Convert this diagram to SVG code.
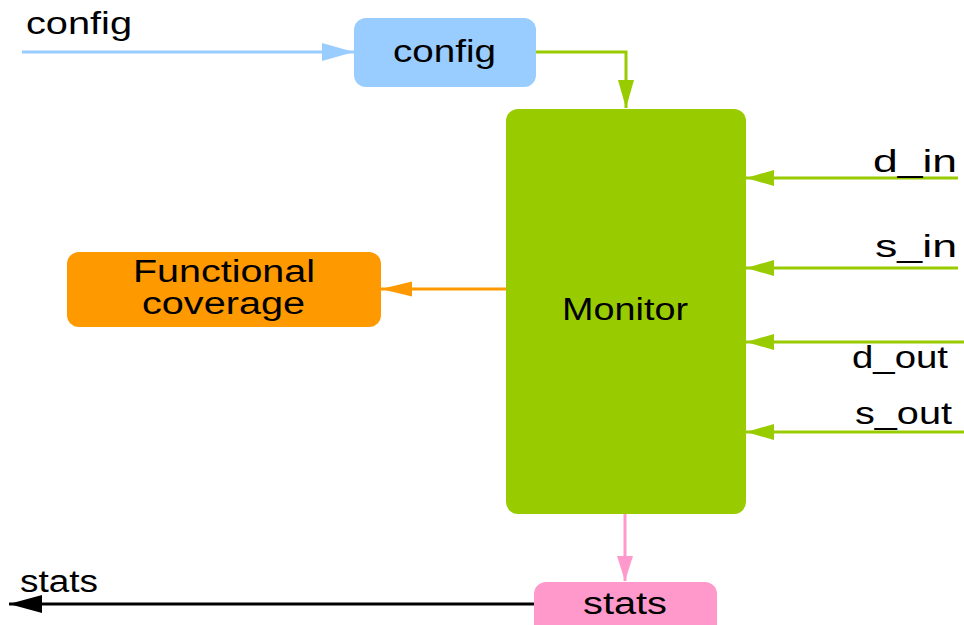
<svg xmlns="http://www.w3.org/2000/svg" width="964" height="625" viewBox="0 0 964 625">
<style>
text{font-family:"Liberation Sans",Arial,sans-serif;font-size:31px;fill:#000;}
.ln{fill:none;stroke-width:3;}
</style>
<defs>
<marker id="aBlue" markerUnits="userSpaceOnUse" markerWidth="34" markerHeight="20" refX="32" refY="10" orient="auto"><path d="M0,1 L32,10 L0,19 z" fill="#99ccff"/></marker>
<marker id="aGreen" markerUnits="userSpaceOnUse" markerWidth="30" markerHeight="18" refX="28" refY="9" orient="auto"><path d="M0,1 L28,9 L0,17 z" fill="#99cc00"/></marker>
<marker id="aOrange" markerUnits="userSpaceOnUse" markerWidth="32" markerHeight="18" refX="31" refY="9" orient="auto"><path d="M0,1.5 L31,9 L0,16.5 z" fill="#ff9900"/></marker>
<marker id="aPink" markerUnits="userSpaceOnUse" markerWidth="26" markerHeight="18" refX="25" refY="9" orient="auto"><path d="M0,1 L25,9 L0,17 z" fill="#ff99cc"/></marker>
<marker id="aBlack" markerUnits="userSpaceOnUse" markerWidth="34" markerHeight="20" refX="33" refY="10" orient="auto"><path d="M0,1 L33,10 L0,19 z" fill="#000"/></marker>
</defs>
<g id="connectors">
<path class="ln" d="M22,52 H354" stroke="#99ccff" marker-end="url(#aBlue)"/>
<path class="ln" d="M536,52 H626 V108" stroke="#99cc00" marker-end="url(#aGreen)"/>
<path class="ln" d="M958,178 H746" stroke="#99cc00" marker-end="url(#aGreen)"/>
<path class="ln" d="M958,268 H746" stroke="#99cc00" marker-end="url(#aGreen)"/>
<path class="ln" d="M964,342 H746" stroke="#99cc00" marker-end="url(#aGreen)"/>
<path class="ln" d="M964,432 H746" stroke="#99cc00" marker-end="url(#aGreen)"/>
<path class="ln" d="M506,289 H381" stroke="#ff9900" stroke-width="2.5" marker-end="url(#aOrange)"/>
<path class="ln" d="M625,514 V581" stroke="#ff99cc" stroke-width="2.5" marker-end="url(#aPink)"/>
<path class="ln" d="M534,604 H9" stroke="#000" marker-end="url(#aBlack)"/>
<text x="26" y="34" textLength="106" lengthAdjust="spacingAndGlyphs">config</text>
<text x="873" y="172" textLength="84" lengthAdjust="spacingAndGlyphs">d_in</text>
<text x="875" y="257" textLength="82" lengthAdjust="spacingAndGlyphs">s_in</text>
<text x="852" y="368" textLength="96" lengthAdjust="spacingAndGlyphs">d_out</text>
<text x="855" y="424" textLength="97" lengthAdjust="spacingAndGlyphs">s_out</text>
<text x="20" y="592" textLength="78" lengthAdjust="spacingAndGlyphs">stats</text>
</g>
<g id="config">
<rect x="354" y="18" width="182" height="69" rx="12" fill="#99ccff"/>
<text x="393" y="62" textLength="103" lengthAdjust="spacingAndGlyphs">config</text>
</g>
<g id="monitor">
<rect x="506" y="109" width="240" height="405" rx="12" fill="#99cc00"/>
<text x="562" y="320" textLength="126" lengthAdjust="spacingAndGlyphs">Monitor</text>
</g>
<g id="coverage">
<rect x="67" y="252" width="314" height="75" rx="12" fill="#ff9900"/>
<text x="133" y="282" textLength="182" lengthAdjust="spacingAndGlyphs">Functional</text>
<text x="142" y="314" textLength="163" lengthAdjust="spacingAndGlyphs">coverage</text>
</g>
<g id="stats">
<rect x="534" y="582" width="183" height="60" rx="12" fill="#ff99cc"/>
<text x="583" y="614" textLength="84" lengthAdjust="spacingAndGlyphs">stats</text>
</g>
</svg>
